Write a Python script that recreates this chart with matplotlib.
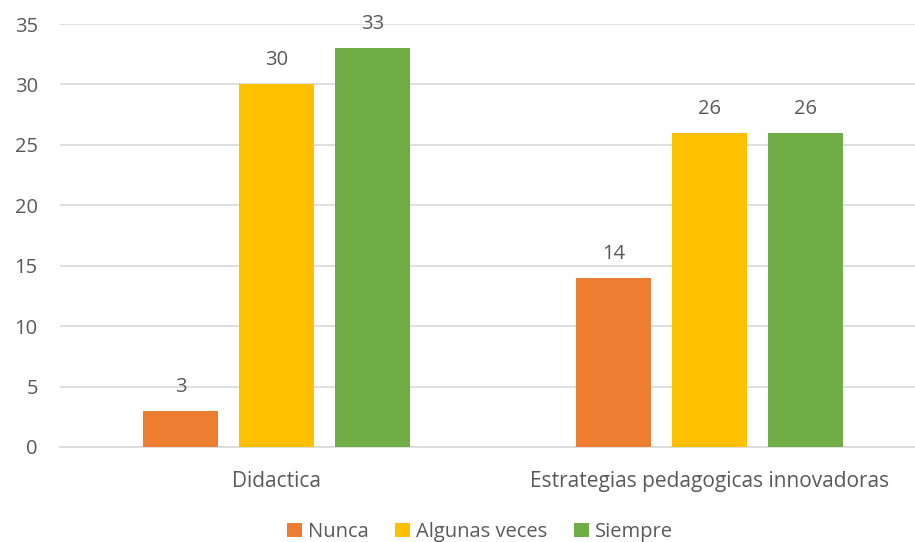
import matplotlib
matplotlib.use("Agg")
from matplotlib import pyplot as plt
import numpy as np

plt.rcParams['font.family'] = ['Open Sans', 'DejaVu Sans']

categorias = ["Didactica", "Estrategias pedagogicas innovadoras"]
series = ["Nunca", "Algunas veces", "Siempre"]
nunca = [3, 14]
algunas = [30, 26]
siempre = [33, 26]
colores = ["#ED7D31", "#FFC000", "#70AD47"]
gris = "#595959"

fig = plt.figure(figsize=(9.15, 5.42), dpi=100)
ax = fig.add_axes([60/915, 95/542, 855/915, 423/542])

x = np.arange(len(categorias))
ancho = 0.173
paso = 0.2217
for i, (nombre, valores) in enumerate(zip(series, [nunca, algunas, siempre])):
    pos = x + (i - 1) * paso
    ax.bar(pos, valores, width=ancho, color=colores[i], label=nombre, zorder=3)
    for p, v in zip(pos, valores):
        ax.text(p, v + 2.0, str(v), ha="center", va="center", fontsize=14.5, color=gris)

ax.set_xlim(-0.501, 1.4736)
ax.set_ylim(0, 35)
ax.set_yticks(range(0, 36, 5))
ax.yaxis.grid(True, color="#D9D9D9", linewidth=1.2, zorder=0)
for s in ["top", "right", "left"]:
    ax.spines[s].set_visible(False)
ax.spines["bottom"].set_color("#D9D9D9")
ax.spines["bottom"].set_linewidth(1.2)
ax.tick_params(axis="both", length=0, labelsize=14.5, labelcolor=gris)
ax.tick_params(axis="y", pad=16)
ax.tick_params(axis="x", pad=17, labelsize=15)
ax.set_xticks(x)
ax.set_xticklabels(categorias)

fig.legend(loc="center", bbox_to_anchor=(480/915, 1 - 532/542), ncol=3, frameon=False,
           fontsize=14.5, labelcolor=gris, handlelength=0.75, handleheight=0.75,
           handletextpad=0.3, columnspacing=1.3, borderpad=0)

fig.savefig("out.png", dpi=100)
